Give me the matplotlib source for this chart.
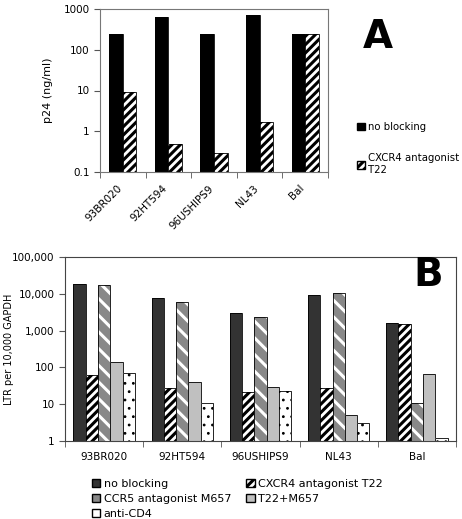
import numpy as np
import matplotlib
matplotlib.use('Agg')
import matplotlib.pyplot as plt
from matplotlib import ticker
from matplotlib.patches import Patch

# Данные панели A (p24, нг/мл)
strains = ['93BR020', '92HT594', '96USHIPS9', 'NL43', 'Bal']
a_noblock = [250, 650, 250, 700, 240]
a_t22 = [9, 0.5, 0.3, 1.7, 250]

# Данные панели B (LTR на 10 000 GAPDH)
b_noblock = [19000, 7500, 3000, 9000, 1600]
b_t22 = [63, 27, 21, 28, 1500]
b_m657 = [17000, 6000, 2300, 10500, 11]
b_t22m657 = [140, 40, 30, 5, 68]
b_cd4 = [72, 11, 23, 3, 1.2]

plt.rcParams['font.family'] = ['DejaVu Sans']
plt.rcParams['hatch.linewidth'] = 2.2

fig = plt.figure(figsize=(4.62, 5.19), dpi=100)

def hatched_bar(ax, x, vals, bottom, width, face, hcolor, hatch, hlw=None):
    h = [v - bottom for v in vals]
    bars = ax.bar(x, h, width, bottom=bottom, color=face, edgecolor=hcolor,
                  hatch=hatch, linewidth=0)
    if hlw is not None:
        for b in bars:
            if hasattr(b, 'set_hatch_linewidth'):
                b.set_hatch_linewidth(hlw)
    ax.bar(x, h, width, bottom=bottom, fill=False, edgecolor='black',
           linewidth=0.6)

def setup_cat_axis(ax, n, shift=0.0):
    ax.set_xlim(0, n)
    ax.set_xticks(np.arange(n) + 0.5 + shift)
    ax.set_xticks(np.arange(n + 1), minor=True)
    ax.tick_params(axis='x', which='major', length=0, pad=8)
    ax.tick_params(axis='x', which='minor', length=4, color='#555555')
    ax.yaxis.set_minor_locator(ticker.NullLocator())
    ax.tick_params(axis='y', which='major', length=4, color='#555555',
                   labelsize=7.5)

# ---- Панель A ----
ax1 = fig.add_axes([100/462, 1-172/519, 228/462, 163/519])
ax1.set_yscale('log')
ax1.set_ylim(0.1, 1000)
x = np.arange(len(strains)) + 0.5
w = 0.3
hatched_bar(ax1, x - w/2, a_noblock, 0.1, w, 'black', 'black', '')
hatched_bar(ax1, x + w/2, a_t22, 0.1, w, 'white', 'black', '////')
setup_cat_axis(ax1, len(strains), shift=-0.13)
ax1.set_xticklabels(strains, rotation=45, ha='right', rotation_mode='anchor',
                    fontsize=7.5)
ax1.yaxis.set_major_formatter(ticker.FuncFormatter(lambda v, p: '%g' % v))
ax1.set_ylabel('p24 (ng/ml)', fontsize=8)
ax1.yaxis.set_label_coords(-47/228, 0.5)
for s in ax1.spines.values():
    s.set_color('#777777')
fig.text(378/462, 1-37/519, 'A', fontsize=28, fontweight='bold',
         ha='center', va='center')
leg_a = [Patch(facecolor='black', edgecolor='black', label='no blocking'),
         Patch(facecolor='white', edgecolor='black', hatch='////',
               label='CXCR4 antagonist\nT22')]
fig.legend(handles=leg_a, loc='upper left', bbox_to_anchor=(352/462, 1-117/519),
           frameon=False, fontsize=7.3, handlelength=0.8, handleheight=0.8,
           handletextpad=0.3, labelspacing=2.1, borderpad=0)

# ---- Панель B ----
ax2 = fig.add_axes([65/462, 1-441/519, 391/462, 184/519])
ax2.set_yscale('log')
ax2.set_ylim(1, 100000)
bw = 0.157
off = (np.arange(5) - 2) * bw
hatched_bar(ax2, x + off[0], b_noblock, 1, bw, '#333333', '#333333', '')
hatched_bar(ax2, x + off[1], b_t22, 1, bw, 'white', 'black', '////')
hatched_bar(ax2, x + off[2], b_m657, 1, bw, '#888888', 'white', '\\\\')
hatched_bar(ax2, x + off[3], b_t22m657, 1, bw, '#c0c0c0', '#c0c0c0', '')
hatched_bar(ax2, x + off[4], b_cd4, 1, bw, 'white', 'black', '..', hlw=0.8)
setup_cat_axis(ax2, len(strains))
ax2.set_xticklabels(strains, fontsize=7.5)
ax2.yaxis.set_major_formatter(ticker.FuncFormatter(lambda v, p: '{:,.0f}'.format(v)))
ax2.set_ylabel('LTR per 10,000 GAPDH', fontsize=7)
ax2.yaxis.set_label_coords(-51/391, 0.5)
for s in ax2.spines.values():
    s.set_color('#444444')
ax2.text(0.928, 0.90, 'B', transform=ax2.transAxes, fontsize=28,
         fontweight='bold', ha='center', va='center')
leg_b = [Patch(facecolor='#333333', edgecolor='black', label='no blocking'),
         Patch(facecolor='#888888', edgecolor='black', label='CCR5 antagonist M657'),
         Patch(facecolor='white', edgecolor='black', label='anti-CD4'),
         Patch(facecolor='white', edgecolor='black', hatch='////',
               label='CXCR4 antagonist T22'),
         Patch(facecolor='#c0c0c0', edgecolor='black', label='T22+M657')]
fig.legend(handles=leg_b, loc='upper left', ncol=2,
           bbox_to_anchor=(86/462, 1-473/519), frameon=False, fontsize=8,
           handlelength=0.8, handleheight=0.8, handletextpad=0.3,
           labelspacing=0.45, columnspacing=1.3, borderpad=0)

fig.savefig('out.png', dpi=100)
